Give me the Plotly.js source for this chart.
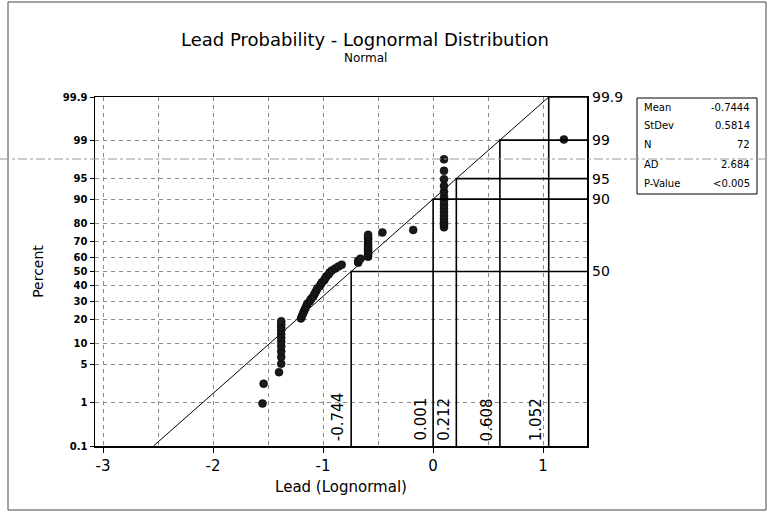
<!DOCTYPE html>
<html>
<head>
<meta charset="utf-8">
<script src="https://cdn.plot.ly/plotly-3.0.1.min.js"></script>
<style>html,body{margin:0;padding:0;background:#fff;}#chart{width:768px;height:517px;}</style>
</head>
<body>
<div id="chart"></div>
<script>
// ---- data ----
const leadLn = [
  -1.55, -1.54, -1.40,
  -1.38, -1.38, -1.38, -1.38, -1.38, -1.38, -1.38, -1.38, -1.38, -1.38, -1.38,
  -1.20, -1.19, -1.18, -1.17, -1.16, -1.15, -1.14, -1.12, -1.11, -1.09, -1.08, -1.07, -1.06,
  -1.05, -1.03, -1.02, -1.01, -0.99, -0.98, -0.97, -0.95, -0.94, -0.92, -0.89, -0.86, -0.83,
  -0.68, -0.68, -0.66,
  -0.59, -0.59, -0.59, -0.59, -0.59, -0.59, -0.59, -0.59, -0.59, -0.59, -0.59,
  -0.46, -0.18,
  0.10, 0.10, 0.10, 0.10, 0.10, 0.10, 0.10, 0.10, 0.10, 0.10, 0.10, 0.10, 0.10, 0.10, 0.10,
  1.19
];
const leadPercent = [
  0.967, 2.348, 3.729, 5.110, 6.492, 7.873, 9.254, 10.635, 12.017, 13.398,
  14.779, 16.160, 17.541, 18.923, 20.304, 21.685, 23.066, 24.448, 25.829, 27.210,
  28.591, 29.972, 31.354, 32.735, 34.116, 35.497, 36.878, 38.260, 39.641, 41.022,
  42.403, 43.785, 45.166, 46.547, 47.928, 49.309, 50.691, 52.072, 53.453, 54.834,
  56.215, 57.597, 58.978, 60.359, 61.740, 63.122, 64.503, 65.884, 67.265, 68.646,
  70.028, 71.409, 72.790, 74.171, 75.552, 76.934, 78.315, 79.696, 81.077, 82.459,
  83.840, 85.221, 86.602, 87.983, 89.365, 90.746, 92.127, 93.508, 94.890, 96.271,
  97.652, 99.033
];
const fitMean = -0.7444;
const fitStDev = 0.5814;
const refPercents = [50, 90, 95, 99, 99.9];
const refValues = [-0.744, 0.001, 0.212, 0.608, 1.052];
const refLabels = ["-0.744", "0.001", "0.212", "0.608", "1.052"];
const yTickPercents = [0.1, 1, 5, 10, 20, 30, 40, 50, 60, 70, 80, 90, 95, 99, 99.9];
const yTickLabels = ["0.1", "1", "5", "10", "20", "30", "40", "50", "60", "70", "80", "90", "95", "99", "99.9"];
const xTickVals = [-3, -2, -1, 0, 1];
const xTickLabels = ["-3", "-2", "-1", "0", "1"];
const xMinorVals = [-2.5, -1.5, -0.5, 0.5];
const statNames = ["Mean", "StDev", "N", "AD", "P-Value"];
const statValues = ["-0.7444", "0.5814", "72", "2.684", "<0.005"];

// ---- probability (normal quantile) scale ----
function normInv(p) {
  const a=[-3.969683028665376e+01,2.209460984245205e+02,-2.759285104469687e+02,1.383577518672690e+02,-3.066479806614716e+01,2.506628277459239e+00];
  const b=[-5.447609879822406e+01,1.615858368580409e+02,-1.556989798598866e+02,6.680131188771972e+01,-1.328068155288572e+01];
  const c=[-7.784894002430293e-03,-3.223964580411365e-01,-2.400758277161838e+00,-2.549732539343734e+00,4.374664141464968e+00,2.938163982698783e+00];
  const d=[7.784695709041462e-03,3.224671290700398e-01,2.445134137142996e+00,3.754408661907416e+00];
  const pl = 0.02425; let q, r;
  if (p < pl) { q = Math.sqrt(-2*Math.log(p)); return (((((c[0]*q+c[1])*q+c[2])*q+c[3])*q+c[4])*q+c[5])/((((d[0]*q+d[1])*q+d[2])*q+d[3])*q+1); }
  if (p > 1-pl) { q = Math.sqrt(-2*Math.log(1-p)); return -(((((c[0]*q+c[1])*q+c[2])*q+c[3])*q+c[4])*q+c[5])/((((d[0]*q+d[1])*q+d[2])*q+d[3])*q+1); }
  q = p - 0.5; r = q*q;
  return (((((a[0]*r+a[1])*r+a[2])*r+a[3])*r+a[4])*r+a[5])*q/(((((b[0]*r+b[1])*r+b[2])*r+b[3])*r+b[4])*r+1);
}
const z = pct => normInv(pct / 100);

const yLo = z(yTickPercents[0]);
const yHi = z(yTickPercents[yTickPercents.length - 1]);
const xRange = [-3.073, 1.40];

// ---- traces ----
const points = {
  x: leadLn, y: leadPercent.map(z), type: 'scatter', mode: 'markers',
  marker: {size: 8, color: '#1a1a1a', line: {color: '#000', width: 0.5}}, hoverinfo: 'skip', showlegend: false
};
const fit = {
  x: [fitMean + fitStDev*yLo, fitMean + fitStDev*yHi], y: [yLo, yHi],
  type: 'scatter', mode: 'lines', line: {color: '#000', width: 1},
  hoverinfo: 'skip', showlegend: false
};
const rx = [], ry = [];
refValues.forEach((v, i) => {
  const zz = z(refPercents[i]);
  rx.push(v, v, xRange[1], null);
  ry.push(yLo, zz, zz, null);
});
const refLines = {
  x: rx, y: ry, yaxis: 'y2', type: 'scatter', mode: 'lines',
  line: {color: '#000', width: 1.6}, hoverinfo: 'skip', showlegend: false
};

// ---- annotations ----
const FONT = 'DejaVu Sans, Verdana, sans-serif';
const annotations = [];
refValues.forEach((v, i) => {
  annotations.push({
    x: v, xref: 'x', y: yLo, yref: 'y', text: refLabels[i], showarrow: false,
    textangle: -90, xanchor: 'right', yanchor: 'bottom', xshift: -2, yshift: 3,
    font: {family: FONT, size: 15, color: '#000'}
  });
});
annotations.push({
  x: (365-95)/492, xref: 'paper', y: (446-58)/349, yref: 'paper', text: 'Normal',
  showarrow: false, xanchor: 'center', yanchor: 'middle',
  font: {family: FONT, size: 12, color: '#000'}
});
const rowY = [107, 126, 145, 164, 183];
statNames.forEach((n, i) => {
  annotations.push({x: (642-95)/492, xref: 'paper', y: (446-rowY[i])/349, yref: 'paper',
    text: n, showarrow: false, xanchor: 'left', yanchor: 'middle',
    font: {family: FONT, size: 10, color: '#000'}});
  annotations.push({x: (752-95)/492, xref: 'paper', y: (446-rowY[i])/349, yref: 'paper',
    text: statValues[i], showarrow: false, xanchor: 'right', yanchor: 'middle',
    font: {family: FONT, size: 10, color: '#000'}});
});

const shapes = [
  // stats box
  {type: 'rect', xref: 'paper', yref: 'paper', x0: (637-95)/492, x1: (757-95)/492,
   y0: (446-194)/349, y1: (446-98)/349, line: {color: '#000', width: 1}},
  // outer frame
  {type: 'rect', xref: 'paper', yref: 'paper', x0: (8-95)/492, x1: (766-95)/492,
   y0: (446-510)/349, y1: (446-2)/349, line: {color: '#444', width: 1}},
  // faint scan line across the page
  {type: 'line', xref: 'paper', yref: 'paper', x0: -95/492, x1: (768-95)/492,
   y0: (446-159)/349, y1: (446-159)/349, line: {color: '#999', width: 1, dash: 'dashdot'}}
];

const GRID = '#8a8a8a';
const layout = {
  width: 768, height: 517,
  margin: {l: 95, r: 181, t: 97, b: 71, pad: 0},
  paper_bgcolor: '#fff', plot_bgcolor: '#fff',
  font: {family: FONT, color: '#000'},
  title: {text: 'Lead Probability - Lognormal Distribution', x: 365/768, xref: 'container',
    xanchor: 'center', y: 1 - 40/517, yref: 'container', yanchor: 'middle',
    font: {family: FONT, size: 18, color: '#000'}},
  xaxis: {
    range: xRange, tickmode: 'array', tickvals: xTickVals, ticktext: xTickLabels,
    ticks: 'outside', ticklen: 5, tickcolor: '#000', tickfont: {size: 15, family: FONT},
    showline: true, linecolor: '#000', linewidth: 1.5, mirror: true, zeroline: false,
    showgrid: true, gridcolor: GRID, griddash: '4px,4px', gridwidth: 1,
    minor: {tickmode: 'array', tickvals: xMinorVals, showgrid: true, gridcolor: GRID, griddash: '4px,4px', ticks: ''},
    title: {text: 'Lead (Lognormal)', font: {size: 15, family: FONT}, standoff: 8}
  },
  yaxis: {
    range: [yLo, yHi], tickmode: 'array', tickvals: yTickPercents.map(z), ticktext: yTickLabels,
    ticks: 'outside', ticklen: 4, tickcolor: '#000', tickfont: {size: 10, family: FONT, weight: 'bold'},
    showline: true, linecolor: '#000', linewidth: 1.5, mirror: true, zeroline: false,
    showgrid: true, gridcolor: GRID, griddash: '4px,4px', gridwidth: 1,
    title: {text: 'Percent', font: {size: 14, family: FONT}, standoff: 16}
  },
  yaxis2: {
    overlaying: 'y', side: 'right', range: [yLo, yHi], tickmode: 'array',
    tickvals: refPercents.map(z), ticktext: refPercents.map(String),
    ticks: '', ticklabelstandoff: 4, tickfont: {size: 14, family: FONT}, showgrid: false, zeroline: false,
    showline: false
  },
  annotations: annotations,
  shapes: shapes,
  showlegend: false
};

Plotly.newPlot('chart', [fit, points, refLines], layout, {staticPlot: true, displayModeBar: false});
</script>
</body>
</html>
